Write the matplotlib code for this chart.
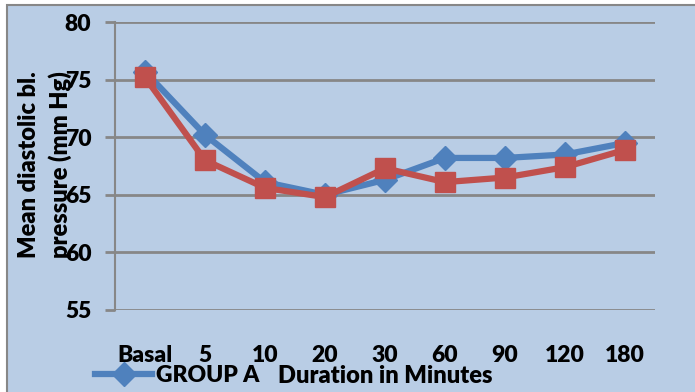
import matplotlib
matplotlib.use("Agg")
import matplotlib.pyplot as plt
from matplotlib.patches import Rectangle

plt.rcParams['font.family'] = ['Lato', 'DejaVu Sans']
plt.rcParams['font.weight'] = 'heavy'

# mean diastolic pressure per time point
durations = ['Basal', '5', '10', '20', '30', '60', '90', '120', '180']
group_a = [75.7, 70.2, 66.1, 65.0, 66.3, 68.2, 68.2, 68.5, 69.5]
group_b = [75.2, 68.0, 65.6, 64.8, 67.3, 66.1, 66.5, 67.4, 68.9]

blue = '#4F81BD'
red = '#C0504D'
bg = '#B9CDE5'
grid_c = '#878787'
fs = 16.5
wt = 'heavy'

fig = plt.figure(figsize=(6.95, 3.92), dpi=100)
fig.patch.set_facecolor('white')

# chart area panel, kept behind the axes
fig.patches.append(Rectangle((7 / 695, -0.05), 1.0, 1 - 5 / 392 + 0.05,
                             transform=fig.transFigure, facecolor=bg,
                             edgecolor=grid_c, linewidth=1.5, zorder=-10))

ax = fig.add_axes([115 / 695, 1 - 310 / 392, 540 / 695, 288 / 392])
ax.set_facecolor('none')

x = range(len(durations))
ln_a, = ax.plot(x, group_a, color=blue, lw=4.5, marker='D', ms=12,
                markeredgecolor=blue, label='GROUP A', zorder=3)
ax.plot(x, group_b, color=red, lw=4.5, marker='s', ms=14,
        markeredgecolor=red, label='GROUP B', zorder=4)

ax.set_xlim(-0.5, len(durations) - 0.5)
ax.set_ylim(55, 80)
ax.set_yticks([55, 60, 65, 70, 75, 80])
ax.set_xticks(list(x))
ax.set_xticklabels(durations)
ax.yaxis.grid(True, color=grid_c, lw=2)
ax.set_axisbelow(True)

for s in ['top', 'right', 'bottom']:
    ax.spines[s].set_visible(False)
ax.spines['left'].set_color(grid_c)
ax.spines['left'].set_linewidth(1.5)

ax.tick_params(axis='y', length=7, width=2, color=grid_c, pad=10,
               labelsize=fs)
ax.tick_params(axis='x', length=0, pad=25, labelsize=fs)
for lbl in ax.get_xticklabels() + ax.get_yticklabels():
    lbl.set_fontweight(wt)

fig.text(45 / 695, 1 - 165 / 392, 'Mean diastolic bl.\npressure (mm Hg)',
         rotation=90, ha='center', va='center', fontsize=fs + 0.5,
         fontweight=wt, linespacing=1.4)

fig.legend(handles=[ln_a], labels=['GROUP A'], loc='center left',
           bbox_to_anchor=(95 / 695, 1 - 376 / 392), frameon=False,
           handlelength=2.5, handletextpad=0.15, borderaxespad=0,
           borderpad=0, prop={'size': fs, 'weight': wt})
fig.text(385 / 695, 1 - 376 / 392, 'Duration in Minutes', ha='center',
         va='center', fontsize=fs + 0.5, fontweight=wt)

fig.savefig('out.png', dpi=100, facecolor=fig.get_facecolor())
